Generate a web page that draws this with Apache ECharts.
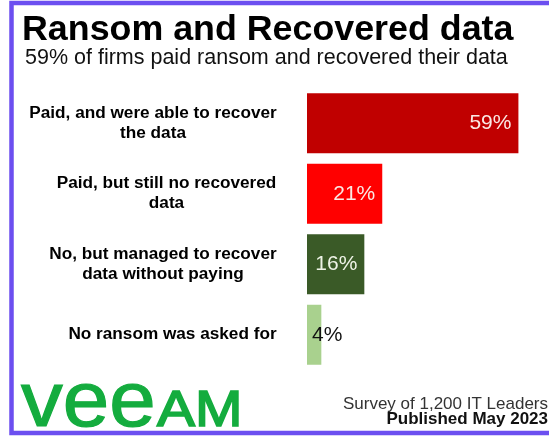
<!DOCTYPE html>
<html>
<head>
<meta charset="utf-8">
<script src="https://cdn.jsdelivr.net/npm/echarts@6/dist/echarts.min.js"></script>
<style>
html,body{margin:0;padding:0;background:#fff;}
#chart{width:549px;height:436px;}
</style>
</head>
<body>
<div id="chart"></div>
<script>
// ---- data ----
const titleText = 'Ransom and Recovered data';
const subtitleText = '59% of firms paid ransom and recovered their data';
const categories = [
  'Paid, and were able to recover\nthe data',
  'Paid, but still no recovered\ndata',
  'No, but managed to recover\ndata without paying',
  'No ransom was asked for'
];
const values = [59, 21, 16, 4];
const footerLines = ['Survey of 1,200 IT Leaders', 'Published May 2023'];
const logoParts = ['vee', 'AM'];

// ---- style ----
const FONT = 'Arial, "Liberation Sans", sans-serif';
const barColors = ['#c00000', '#ff0000', '#3a5a27', '#a9d18e'];
const labelColors = ['#fbe9e4', '#fbe9e4', '#eef3e6', '#111111'];
const catFontSize = 17.2;
const logoColor = '#14ac3e';

// measure category label widths to centre lines within a right-aligned block
const cv = document.createElement('canvas').getContext('2d');
cv.font = 'bold ' + catFontSize + 'px ' + FONT;
function blockWidth(txt) {
  return Math.max.apply(null, txt.split('\n').map(l => cv.measureText(l).width)) + 1;
}

const chart = echarts.init(document.getElementById('chart'), null, {renderer: 'canvas'});
const option = {
  backgroundColor: '#ffffff',
  animation: false,
  grid: {left: 307, top: 88, width: 215, height: 282, containLabel: false},
  xAxis: {
    type: 'value', min: 0, max: 60, show: false
  },
  yAxis: {
    type: 'category', data: categories, inverse: true,
    axisLine: {show: false}, axisTick: {show: false}, splitLine: {show: false},
    axisLabel: {
      margin: 30,
      formatter: function (v) {
        const w = blockWidth(v);
        return v.split('\n').map(l => '{c' + Math.round(w) + '|' + l + '}').join('\n');
      },
      rich: (function () {
        const r = {};
        categories.forEach(c => {
          const w = Math.round(blockWidth(c));
          r['c' + w] = {width: w, align: 'center', fontWeight: 'bold', fontSize: catFontSize,
                        fontFamily: FONT, color: '#000', lineHeight: 20};
        });
        return r;
      })()
    }
  },
  series: [{
    type: 'bar',
    barWidth: 60,
    data: values.map((v, i) => ({
      value: v,
      itemStyle: {color: barColors[i]},
      label: {
        show: true,
        position: i === 3 ? 'insideLeft' : 'insideRight',
        distance: i === 3 ? 5 : 7,
        formatter: '{c}%',
        color: labelColors[i],
        fontSize: 21,
        fontFamily: FONT
      }
    }))
  }],
  graphic: [
    {type: 'rect', shape: {x: 11.5, y: 3, width: 620, height: 430},
     style: {fill: 'none', stroke: '#6c4ff0', lineWidth: 4.5}, silent: true},
    {type: 'text', left: 22, top: 12,
     style: {text: titleText, font: 'bold 35.8px ' + FONT, fill: '#000'}},
    {type: 'text', left: 25, top: 47,
     style: {text: subtitleText, font: '21.5px ' + FONT, fill: '#111'}},
    {type: 'text', x: 21, y: 404.5, scaleX: 1.07,
     style: {text: logoParts[0], font: '78px ' + FONT, fill: logoColor, stroke: logoColor, lineWidth: 1.2,
             verticalAlign: 'middle', align: 'left'}},
    {type: 'text', x: 157, y: 412, scaleX: 1.14,
     style: {text: logoParts[1], font: '50px ' + FONT, fill: logoColor, stroke: logoColor, lineWidth: 1.6,
             verticalAlign: 'middle', align: 'left'}},
    {type: 'text', right: 1, top: 396,
     style: {text: footerLines[0], font: '17px ' + FONT, fill: '#333', align: 'right'}},
    {type: 'text', right: 1, top: 411,
     style: {text: footerLines[1], font: 'bold 17px ' + FONT, fill: '#111', align: 'right'}}
  ]
};
chart.setOption(option);
</script>
</body>
</html>
